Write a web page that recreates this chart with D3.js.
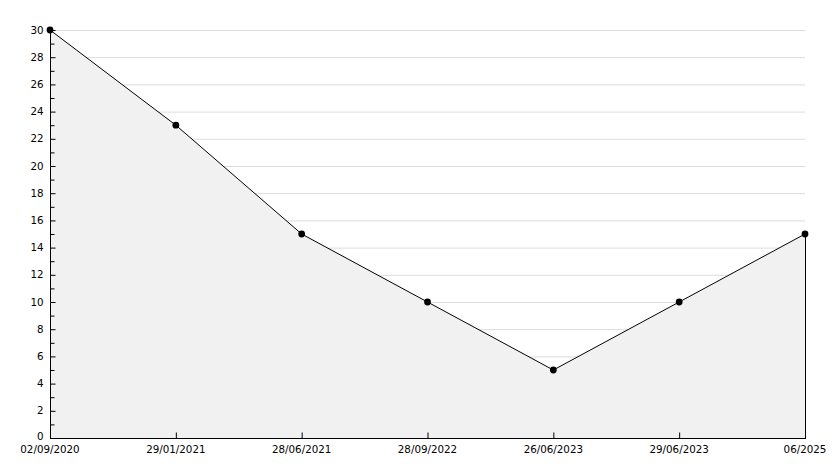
<!DOCTYPE html>
<html><head><meta charset="utf-8">
<script src="https://cdn.jsdelivr.net/npm/d3@7"></script>
<style>body{margin:0;background:#fff}svg{display:block}</style>
</head><body>
<script>
const categories = ["02/09/2020","29/01/2021","28/06/2021","28/09/2022","26/06/2023","29/06/2023","06/2025"];
const values = [30, 23, 15, 10, 5, 10, 15];
const yTicks = [0,2,4,6,8,10,12,14,16,18,20,22,24,26,28,30];

const W = 834, H = 468;
const m = {left: 50, right: 29, top: 30, bottom: 30};
const svg = d3.select("body").append("svg").attr("width", W).attr("height", H);
const x = d3.scalePoint().domain(categories).range([m.left, W - m.right]);
const y = d3.scaleLinear().domain([0, 30]).range([H - m.bottom, m.top]);
const data = categories.map((c, i) => ({c, v: values[i]}));

// grid
svg.append("g").selectAll("line").data(yTicks.filter(d => d > 0)).join("line")
  .attr("x1", m.left).attr("x2", W - m.right)
  .attr("y1", d => y(d) + 0.5).attr("y2", d => y(d) + 0.5)
  .attr("stroke", "#dcdcdc").attr("stroke-width", 1);

// area
svg.append("path").datum(data)
  .attr("d", d3.area().x(d => x(d.c)).y0(y(0)).y1(d => y(d.v)))
  .attr("fill", "#f1f1f1");
// right edge
svg.append("line")
  .attr("x1", x(categories[categories.length-1]) + 0.5).attr("x2", x(categories[categories.length-1]) + 0.5)
  .attr("y1", y(values[values.length-1])).attr("y2", y(0))
  .attr("stroke", "#000");

// line
svg.append("path").datum(data)
  .attr("d", d3.line().x(d => x(d.c)).y(d => y(d.v)))
  .attr("fill", "none").attr("stroke", "#000").attr("stroke-width", 1);

// markers
svg.append("g").selectAll("path").data(data).join("path")
  .attr("transform", d => `translate(${x(d.c)},${y(d.v)})`)
  .attr("d", d3.symbol().type(d3.symbolCircle).size(36))
  .attr("fill", "#000");

// y axis
const ya = svg.append("g").attr("transform", `translate(${m.left + 0.5},0)`);
ya.append("line").attr("y1", y(30)).attr("y2", y(0) + 0.5).attr("stroke", "#000");
ya.selectAll("line.maj").data(yTicks).join("line").attr("class","maj")
  .attr("x1", 0).attr("x2", 5).attr("y1", d => y(d) + 0.5).attr("y2", d => y(d) + 0.5).attr("stroke", "#000");
ya.selectAll("line.min").data(d3.range(1, 30, 2)).join("line").attr("class","min")
  .attr("x1", 0).attr("x2", 4).attr("y1", d => y(d) + 0.5).attr("y2", d => y(d) + 0.5).attr("stroke", "#000");
ya.selectAll("text").data(yTicks).join("text")
  .attr("x", -7).attr("y", d => y(d) - (d === 0 ? 2 : 0)).attr("dy", "0.35em")
  .attr("text-anchor", "end").attr("font-family", "DejaVu Sans, Verdana, sans-serif")
  .attr("font-size", 10.3).attr("fill", "#000").text(d => d);

// x axis
const xa = svg.append("g").attr("transform", `translate(0,${y(0) + 0.5})`);
xa.append("line").attr("x1", m.left).attr("x2", W - m.right + 1).attr("stroke", "#000");
xa.selectAll("line.t").data(categories).join("line").attr("class","t")
  .attr("x1", d => x(d) + 0.5).attr("x2", d => x(d) + 0.5).attr("y1", 0).attr("y2", -6).attr("stroke", "#000");
xa.selectAll("text").data(categories).join("text")
  .attr("x", d => x(d)).attr("y", 14.5)
  .attr("text-anchor", "middle").attr("font-family", "DejaVu Sans, Verdana, sans-serif")
  .attr("font-size", 10.3).attr("fill", "#000").text(d => d);
</script>
</body></html>
